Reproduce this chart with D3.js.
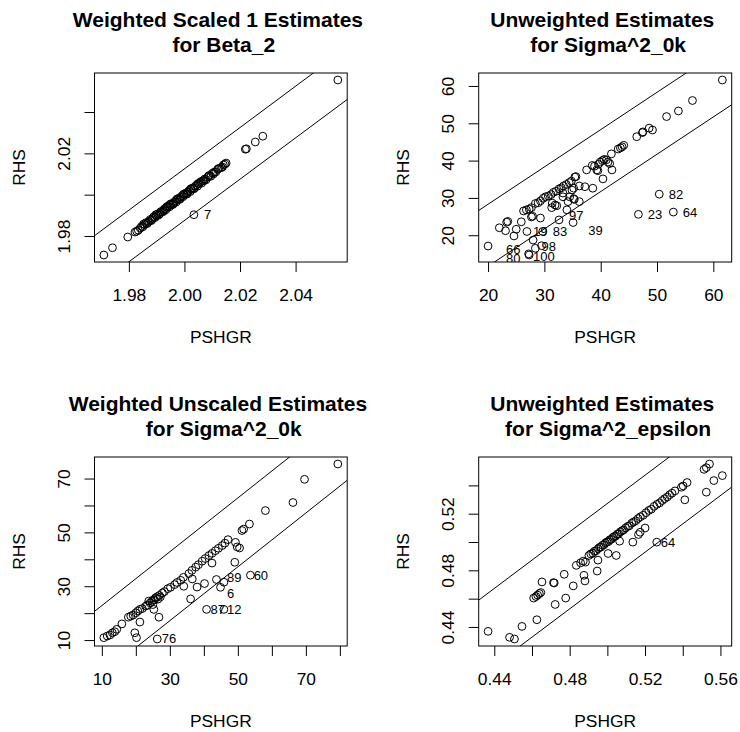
<!DOCTYPE html>
<html><head><meta charset="utf-8">
<script src="https://cdn.jsdelivr.net/npm/d3@7"></script>
<style>
body{margin:0;background:#fff}
svg{display:block}
text{font-family:'Liberation Sans',Arial,Helvetica,sans-serif;fill:#000}
</style>
</head><body>
<svg id="chart" width="740" height="732"></svg>
<script>
// ---------------- DATA ----------------
// Panel 1: Weighted Scaled 1 Estimates for Beta_2  [PSHGR, RHS]
const beta2Points = [
 [1.9710,1.9708],[1.9741,1.9743],[1.9796,1.9795],[1.9822,1.9819],[1.9828,1.9823],[1.9834,1.9828],
 [1.9841,1.9838],[1.9846,1.9847],[1.9850,1.9844],[1.9857,1.9855],[1.9861,1.9864],[1.9866,1.9860],
 [1.9872,1.9871],[1.9877,1.9880],[1.9880,1.9874],[1.9886,1.9885],[1.9889,1.9893],[1.9894,1.9889],
 [1.9899,1.9897],[1.9903,1.9906],[1.9907,1.9901],[1.9912,1.9913],[1.9915,1.9918],[1.9921,1.9916],
 [1.9924,1.9925],[1.9929,1.9932],[1.9933,1.9927],[1.9938,1.9937],[1.9941,1.9945],[1.9946,1.9941],
 [1.9950,1.9949],[1.9953,1.9957],[1.9958,1.9952],[1.9962,1.9961],[1.9967,1.9970],[1.9970,1.9964],
 [1.9975,1.9976],[1.9979,1.9982],[1.9983,1.9977],[1.9987,1.9988],[1.9992,1.9995],[1.9995,1.9990],
 [2.0000,2.0001],[2.0004,2.0007],[2.0008,2.0002],[2.0012,2.0013],[2.0017,2.0020],[2.0021,2.0015],
 [2.0025,2.0026],[2.0030,2.0033],[2.0034,2.0028],[2.0039,2.0040],[2.0043,2.0046],[2.0047,2.0041],
 [2.0052,2.0053],[2.0057,2.0060],[2.0062,2.0056],[2.0067,2.0068],[2.0073,2.0076],[2.0078,2.0072],
 [2.0084,2.0085],[2.0090,2.0093],[2.0095,2.0089],[2.0101,2.0104],[2.0107,2.0109],[2.0113,2.0110],
 [2.0119,2.0122],[2.0126,2.0128],[2.0133,2.0131],[2.0140,2.0144],[2.0146,2.0148],[2.0150,2.0153],
 [1.9853,1.9858],[1.9869,1.9866],[1.9883,1.9879],[1.9897,1.9903],[1.9910,1.9906],[1.9926,1.9921],
 [1.9936,1.9941],[1.9948,1.9953],[1.9960,1.9956],[1.9973,1.9979],[1.9985,1.9981],[1.9997,2.0003],
 [2.0010,2.0006],[2.0023,2.0029],[2.0036,2.0032],[2.0049,2.0054],[2.0060,2.0064],[2.0071,2.0068],
 [2.0087,2.0091],[2.0104,2.0100],[2.0122,2.0126],[2.0137,2.0134],
 [2.0219,2.0220],[2.0223,2.0222],[2.0255,2.0255],[2.0282,2.0283],[2.0552,2.0555],[2.0034,1.9903]
];
const beta2Labels = [["7",2.0034,1.9903]];
const beta2Band = 0.0125;
const beta2XTicks = [1.98,2.00,2.02,2.04];
const beta2XTickLabels = ["1.98","2.00","2.02","2.04"];
const beta2YTicks = [1.98,2.00,2.02,2.04];
const beta2YTickLabels = ["1.98","","2.02",""];

// Panel 2: Unweighted Estimates for Sigma^2_0k
const sig0kUnwPoints = [
 [20.0,17.1],[22.0,22.0],[23.1,21.2],[23.3,23.5],[23.5,23.7],[24.6,19.8],[25.0,21.6],[25.9,23.6],
 [26.3,26.5],[26.8,26.8],[27.3,27.0],[27.7,27.4],[26.9,21.0],[27.7,24.9],[27.9,25.1],[28.0,18.7],
 [28.4,16.5],[27.2,15.0],[27.3,14.7],[29.3,24.6],[29.7,21.0],[29.5,17.2],
 [28.4,28.5],[28.9,28.7],[29.3,29.2],[29.8,29.9],[30.2,30.3],[30.7,30.5],[31.2,30.9],[31.6,31.5],
 [32.1,31.8],[32.6,32.4],[33.0,32.7],[33.4,33.2],[33.9,33.6],[34.4,34.1],[34.8,34.5],[35.4,35.6],[35.6,35.7],
 [31.4,28.6],[31.9,28.1],[32.2,27.9],[31.3,27.4],[32.6,24.1],[33.3,30.3],[33.3,31.3],[34.0,26.8],
 [34.2,29.0],[34.5,30.3],[34.9,32.1],[35.2,29.8],[35.3,29.6],[35.2,32.6],[35.1,23.4],[36.2,33.2],
 [36.2,29.0],[37.2,33.0],[37.5,37.5],[38.6,32.6],[38.5,38.7],[38.9,38.5],[39.3,37.5],[39.5,37.3],
 [39.6,39.0],[39.9,39.6],[40.3,40.0],[40.6,40.3],[41.0,40.2],[41.3,39.6],[41.6,39.2],[40.4,35.1],
 [42.0,37.5],[41.9,41.8],[43.1,43.1],[43.5,43.4],[43.8,43.7],[44.1,44.1],[46.4,46.4],[47.4,47.5],
 [47.5,47.7],[48.6,48.7],[49.2,48.2],[51.7,51.8],[53.8,53.3],[56.3,56.1],[61.6,61.6],
 [50.4,31.0],[46.7,25.6],[52.9,26.2]
];
const sig0kUnwLabels = [
 ["82",50.3,31.0],["23",46.6,25.5],["64",52.8,26.2],["97",32.6,25.4],["39",36.0,21.4],
 ["19",26.2,21.0],["83",29.7,21.0],["98",27.7,17.1],["66",21.4,16.1],["80",21.4,13.8],["100",26.2,14.3]
];
const sig0kUnwBand = 8.3;
const sig0kUnwXTicks = [20,30,40,50,60];
const sig0kUnwXTickLabels = ["20","30","40","50","60"];
const sig0kUnwYTicks = [20,30,40,50,60];
const sig0kUnwYTickLabels = ["20","30","40","50","60"];

// Panel 3: Weighted Unscaled Estimates for Sigma^2_0k
const sig0kWPoints = [
 [10.6,10.9],[11.6,11.5],[12.4,11.9],[13.1,12.7],[13.8,13.1],[14.4,14.0],[15.9,16.0],[17.8,18.5],
 [18.5,18.9],[19.2,19.3],[20.0,20.1],[20.6,20.8],[21.2,21.4],[21.9,21.7],[22.9,22.6],[23.4,23.0],
 [24.2,23.8],[24.7,24.4],[25.2,25.0],[25.8,25.7],[26.3,26.1],[26.9,26.6],[27.8,27.5],[28.4,28.0],
 [29.4,29.1],[30.2,29.6],[31.4,30.6],[32.1,31.4],[33.2,32.2],[34.0,33.3],[35.6,34.7],[36.5,35.9],
 [37.6,37.1],[38.4,38.0],[39.5,39.3],[40.4,40.3],[41.5,41.4],[42.4,42.2],[43.4,43.2],[44.3,44.1],
 [45.4,45.1],[46.2,46.0],[47.1,47.3],[23.8,24.5],[25.5,24.9],[26.5,25.2],[27.2,26.0],[25.0,23.2],
 [49.3,46.3],[49.8,44.6],[50.5,44.2],[51.2,50.7],[51.7,51.2],[53.4,53.1],[58.1,58.1],[66.2,61.1],
 [69.6,69.7],[79.4,75.4],[49.1,38.9],[42.4,38.6],[36.6,32.7],[34.1,30.0],[38.0,29.7],[40.2,31.0],
 [43.7,32.5],[45.9,31.5],[44.9,29.6],[36.1,25.3],[40.8,21.4],[45.9,21.4],[53.7,34.1],[25.3,21.4],
 [26.8,18.5],[21.2,16.7],[19.7,12.7],[20.2,10.9],[26.3,10.4]
];
const sig0kWLabels = [
 ["89",43.9,33.4],["60",51.7,34.1],["6",43.9,27.5],["87",39.0,21.4],["12",43.9,21.4],["76",24.7,10.5]
];
const sig0kWBand = 12.8;
const sig0kWXTicks = [10,20,30,40,50,60,70,80];
const sig0kWXTickLabels = ["10","","30","","50","","70",""];
const sig0kWYTicks = [10,20,30,40,50,60,70];
const sig0kWYTickLabels = ["10","","30","","50","","70"];

// Panel 4: Unweighted Estimates for Sigma^2_epsilon
const sigEpsPoints = [
 [0.4367,0.4369],[0.4481,0.4327],[0.4507,0.4315],[0.4547,0.4404],[0.4626,0.4451],[0.4609,0.4604],
 [0.4621,0.4615],[0.4630,0.4625],[0.4639,0.4636],[0.4647,0.4643],[0.4653,0.4718],[0.4714,0.4713],
 [0.4718,0.4711],[0.4723,0.4559],[0.4771,0.4772],[0.4779,0.4604],[0.4819,0.4690],[0.4835,0.4835],
 [0.4858,0.4853],[0.4872,0.4865],[0.4884,0.4858],[0.4876,0.4765],[0.4881,0.4725],
 [0.4902,0.4905],[0.4912,0.4916],[0.4923,0.4921],[0.4931,0.4935],[0.4940,0.4938],[0.4951,0.4953],
 [0.4958,0.4962],[0.4966,0.4964],[0.4975,0.4978],[0.4983,0.4981],[0.4990,0.4994],[0.4998,0.5001],
 [0.5006,0.5003],[0.5013,0.5016],[0.5021,0.5019],[0.5029,0.5032],[0.5036,0.5039],[0.5044,0.5042],
 [0.5053,0.5056],[0.5060,0.5058],[0.5069,0.5072],[0.5078,0.5080],[0.5086,0.5085],[0.5096,0.5099],
 [0.5108,0.5110],[0.5117,0.5115],[0.5129,0.5133],[0.5139,0.5141],[0.5151,0.5150],[0.5163,0.5166],
 [0.5175,0.5178],[0.5190,0.5189],[0.5205,0.5207],[0.5220,0.5223],[0.5233,0.5232],[0.5248,0.5252],
 [0.5263,0.5266],[0.5277,0.5276],[0.5291,0.5293],[0.5304,0.5306],[0.5318,0.5318],[0.5330,0.5333],
 [0.5343,0.5345],[0.5359,0.5361],[0.5393,0.5387],[0.5402,0.5396],[0.5423,0.5420],
 [0.4950,0.4872],[0.4946,0.4795],[0.5004,0.4919],[0.5047,0.4905],[0.5065,0.5006],[0.5135,0.4999],
 [0.5165,0.5053],[0.5174,0.5069],[0.5200,0.5099],[0.5262,0.4999],[0.5411,0.5298],[0.5525,0.5352],
 [0.5565,0.5434],[0.5610,0.5469],[0.5513,0.5513],[0.5525,0.5525],[0.5542,0.5551]
];
const sigEpsLabels = [["64",0.5230,0.4999]];
const sigEpsBand = 0.0272;
const sigEpsXTicks = [0.44,0.46,0.48,0.50,0.52,0.54,0.56];
const sigEpsXTickLabels = ["0.44","","0.48","","0.52","","0.56"];
const sigEpsYTicks = [0.44,0.46,0.48,0.50,0.52,0.54];
const sigEpsYTickLabels = ["0.44","","0.48","","0.52",""];

const titles = [
 ["Weighted Scaled 1 Estimates ", " for Beta_2"],
 ["Unweighted Estimates ", " for Sigma^2_0k"],
 ["Weighted Unscaled Estimates ", " for Sigma^2_0k"],
 ["Unweighted Estimates ", " for Sigma^2_epsilon"]
];
const xLabel = "PSHGR", yLabel = "RHS";

// ---------------- LAYOUT ----------------
const boxes = [
 {x0:94.5, y0:73,  x1:347.2, y1:262},
 {x0:478.7,y0:73,  x1:731.7, y1:262},
 {x0:94.5, y0:457, x1:347.2, y1:646},
 {x0:478.7,y0:457, x1:731.7, y1:646}
];
const panels = [
 {pts:beta2Points, labels:beta2Labels, band:beta2Band, xt:beta2XTicks, xtl:beta2XTickLabels, yt:beta2YTicks, ytl:beta2YTickLabels},
 {pts:sig0kUnwPoints, labels:sig0kUnwLabels, band:sig0kUnwBand, xt:sig0kUnwXTicks, xtl:sig0kUnwXTickLabels, yt:sig0kUnwYTicks, ytl:sig0kUnwYTickLabels},
 {pts:sig0kWPoints, labels:sig0kWLabels, band:sig0kWBand, xt:sig0kWXTicks, xtl:sig0kWXTickLabels, yt:sig0kWYTicks, ytl:sig0kWYTickLabels},
 {pts:sigEpsPoints, labels:sigEpsLabels, band:sigEpsBand, xt:sigEpsXTicks, xtl:sigEpsXTickLabels, yt:sigEpsYTicks, ytl:sigEpsYTickLabels}
];

const svg = d3.select("#chart");
svg.append("rect").attr("width",740).attr("height",732).attr("fill","#fff");
const AX = 17.4, TT = 21, LB = 13;

function rDomain(vals){
  const [a,b] = d3.extent(vals); const p = (b-a)*0.04; return [a-p,b+p];
}

panels.forEach((P,i)=>{
  const B = boxes[i];
  const x = d3.scaleLinear().domain(rDomain(P.pts.map(d=>d[0]))).range([B.x0,B.x1]);
  const y = d3.scaleLinear().domain(rDomain(P.pts.map(d=>d[1]))).range([B.y1,B.y0]);
  const g = svg.append("g");
  const cid = "clip"+i;
  svg.append("clipPath").attr("id",cid).append("rect")
    .attr("x",B.x0).attr("y",B.y0).attr("width",B.x1-B.x0).attr("height",B.y1-B.y0);
  const inner = g.append("g").attr("clip-path",`url(#${cid})`);

  // reference lines y = x +/- band
  const [dx0,dx1] = x.domain();
  [P.band,-P.band].forEach(o=>{
    inner.append("line")
      .attr("x1",x(dx0)).attr("y1",y(dx0+o)).attr("x2",x(dx1)).attr("y2",y(dx1+o))
      .attr("stroke","#000").attr("stroke-width",1);
  });

  // points
  inner.selectAll("circle").data(P.pts).join("circle")
    .attr("cx",d=>x(d[0])).attr("cy",d=>y(d[1])).attr("r",3.9)
    .attr("fill","none").attr("stroke","#000").attr("stroke-width",1);

  // labels
  inner.selectAll("text.lab").data(P.labels).join("text").attr("class","lab")
    .attr("x",d=>x(d[1])+10).attr("y",d=>y(d[2])).attr("dy","0.36em")
    .attr("font-size",LB).attr("fill","#222").text(d=>d[0]);

  // box
  g.append("rect").attr("x",B.x0).attr("y",B.y0).attr("width",B.x1-B.x0).attr("height",B.y1-B.y0)
    .attr("fill","none").attr("stroke","#000").attr("stroke-width",1);

  // x axis
  const xa = g.append("g").attr("transform",`translate(0,${B.y1})`)
    .call(d3.axisBottom(x).tickValues(P.xt).tickFormat((d,k)=>P.xtl[k]).tickSize(10).tickPadding(0));
  xa.select(".domain").remove();
  xa.selectAll("line").attr("stroke","#000");
  xa.selectAll("text").attr("y",39).attr("dy",null).attr("font-size",AX).attr("font-family",null).attr("fill","#000");
  // y axis
  const ya = g.append("g").attr("transform",`translate(${B.x0},0)`)
    .call(d3.axisLeft(y).tickValues(P.yt).tickFormat((d,k)=>P.ytl[k]).tickSize(10).tickPadding(0));
  ya.select(".domain").remove();
  ya.selectAll("line").attr("stroke","#000");
  ya.selectAll("text").attr("x",0).attr("y",-24.5).attr("dy",null)
    .attr("transform","rotate(-90)").attr("text-anchor","middle")
    .attr("font-size",AX).attr("font-family",null).attr("fill","#000");

  const cx = (B.x0+B.x1)/2, cy = (B.y0+B.y1)/2;
  // axis titles
  g.append("text").attr("x",cx).attr("y",B.y1+80.5).attr("text-anchor","middle")
    .attr("font-size",AX).text(xLabel);
  g.append("text").attr("transform",`translate(${B.x0-69.5},${cy}) rotate(-90)`)
    .attr("text-anchor","middle").attr("font-size",AX).text(yLabel);
  // main title (two lines)
  titles[i].forEach((t,k)=>{
    g.append("text").attr("x",cx).attr("y",B.y0-46.3+k*24.8).attr("text-anchor","middle")
      .attr("font-size",TT).attr("font-weight","bold").style("white-space","pre").text(t);
  });
});
</script>
</body></html>
